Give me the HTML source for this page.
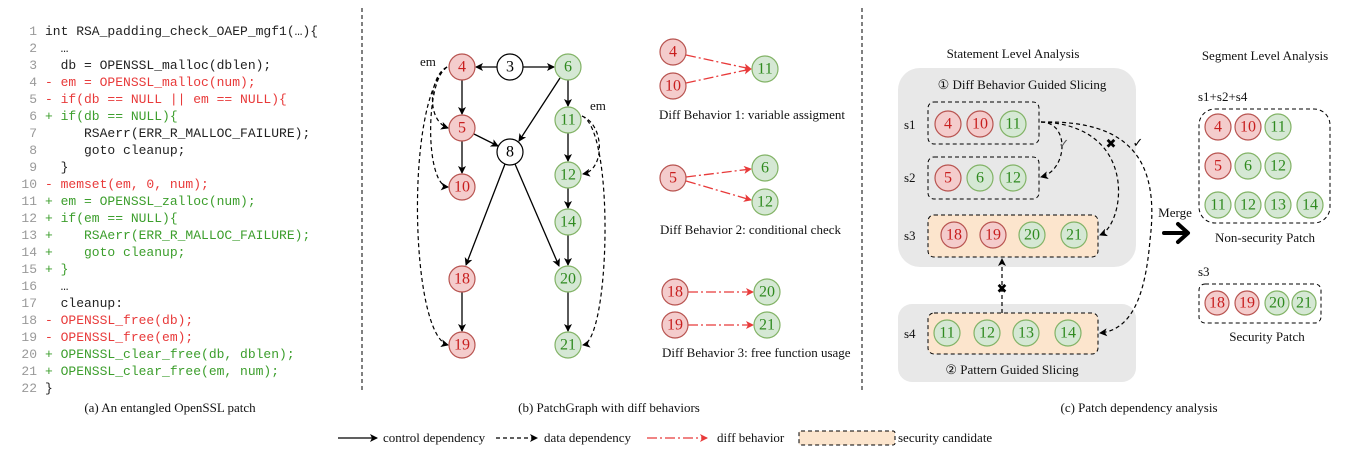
<!DOCTYPE html>
<html><head><meta charset="utf-8"><style>
html,body{margin:0;padding:0;background:#fff;}
svg{display:block;}
.code{font-family:"Liberation Mono",monospace;font-size:13px;white-space:pre;}
.code text{white-space:pre;}
.ln{fill:#999;text-anchor:end;}
.r{fill:#e83a3a;} .g{fill:#3c9e2c;} .k{fill:#222;}
.s{font-family:"Liberation Serif",serif;font-size:13px;fill:#111;}
.n{font-family:"Liberation Serif",serif;font-size:16px;text-anchor:middle;dominant-baseline:central;}
.rc{fill:#f4cccc;stroke:#b85450;stroke-width:1.2;}
.gc{fill:#d5e8d4;stroke:#82b366;stroke-width:1.2;}
.wc{fill:#fff;stroke:#000;stroke-width:1.2;}
.rt{fill:#c81e1e;} .gt{fill:#2f8a1f;}
.ctl{stroke:#000;stroke-width:1.3;fill:none;marker-end:url(#ab);}
.dat{stroke:#000;stroke-width:1.2;fill:none;stroke-dasharray:4,3;marker-end:url(#ab);}
.dif{stroke:#e83a3a;stroke-width:1.3;fill:none;stroke-dasharray:10,3,2,3;marker-end:url(#ar);}
</style></head><body>
<svg width="1348" height="458" viewBox="0 0 1348 458" xmlns="http://www.w3.org/2000/svg" xml:space="preserve">
<defs>
<marker id="ab" markerWidth="8" markerHeight="8" refX="7" refY="4" orient="auto" markerUnits="userSpaceOnUse"><path d="M0,0 L8,4 L0,8 L2,4 Z" fill="#000"/></marker>
<marker id="ar" markerWidth="8" markerHeight="8" refX="7" refY="4" orient="auto" markerUnits="userSpaceOnUse"><path d="M0,0 L8,4 L0,8 L2,4 Z" fill="#e83a3a"/></marker>
</defs>
<line x1="362" y1="8" x2="362" y2="392" stroke="#000" stroke-dasharray="4,3"/>
<line x1="862" y1="8" x2="862" y2="392" stroke="#000" stroke-dasharray="4,3"/>
<g class="code">
<text class="ln" x="37" y="35">1</text><text class="k" x="45" y="35">int RSA_padding_check_OAEP_mgf1(…){</text>
<text class="ln" x="37" y="52">2</text><text class="k" x="45" y="52">  …</text>
<text class="ln" x="37" y="69">3</text><text class="k" x="45" y="69">  db = OPENSSL_malloc(dblen);</text>
<text class="ln" x="37" y="86">4</text><text class="r" x="45" y="86">- em = OPENSSL_malloc(num);</text>
<text class="ln" x="37" y="103">5</text><text class="r" x="45" y="103">- if(db == NULL || em == NULL){</text>
<text class="ln" x="37" y="120">6</text><text class="g" x="45" y="120">+ if(db == NULL){</text>
<text class="ln" x="37" y="137">7</text><text class="k" x="45" y="137">     RSAerr(ERR_R_MALLOC_FAILURE);</text>
<text class="ln" x="37" y="154">8</text><text class="k" x="45" y="154">     goto cleanup;</text>
<text class="ln" x="37" y="171">9</text><text class="k" x="45" y="171">  }</text>
<text class="ln" x="37" y="188">10</text><text class="r" x="45" y="188">- memset(em, 0, num);</text>
<text class="ln" x="37" y="205">11</text><text class="g" x="45" y="205">+ em = OPENSSL_zalloc(num);</text>
<text class="ln" x="37" y="222">12</text><text class="g" x="45" y="222">+ if(em == NULL){</text>
<text class="ln" x="37" y="239">13</text><text class="g" x="45" y="239">+    RSAerr(ERR_R_MALLOC_FAILURE);</text>
<text class="ln" x="37" y="256">14</text><text class="g" x="45" y="256">+    goto cleanup;</text>
<text class="ln" x="37" y="273">15</text><text class="g" x="45" y="273">+ }</text>
<text class="ln" x="37" y="290">16</text><text class="k" x="45" y="290">  …</text>
<text class="ln" x="37" y="307">17</text><text class="k" x="45" y="307">  cleanup:</text>
<text class="ln" x="37" y="324">18</text><text class="r" x="45" y="324">- OPENSSL_free(db);</text>
<text class="ln" x="37" y="341">19</text><text class="r" x="45" y="341">- OPENSSL_free(em);</text>
<text class="ln" x="37" y="358">20</text><text class="g" x="45" y="358">+ OPENSSL_clear_free(db, dblen);</text>
<text class="ln" x="37" y="375">21</text><text class="g" x="45" y="375">+ OPENSSL_clear_free(em, num);</text>
<text class="ln" x="37" y="392">22</text><text class="k" x="45" y="392">}</text>
</g>
<text class="s" x="170" y="412" text-anchor="middle">(a) An entangled OpenSSL patch</text>
<text class="s" x="609" y="412" text-anchor="middle">(b) PatchGraph with diff behaviors</text>
<text class="s" x="1139" y="412" text-anchor="middle">(c) Patch dependency analysis</text>
<line class="ctl" x1="497" y1="67" x2="476" y2="67"/>
<line class="ctl" x1="523" y1="67" x2="554" y2="67"/>
<line class="ctl" x1="462" y1="80" x2="462" y2="114"/>
<line class="ctl" x1="462" y1="141" x2="462" y2="173"/>
<line class="ctl" x1="474" y1="134" x2="498" y2="146"/>
<line class="ctl" x1="560" y1="78" x2="519" y2="141"/>
<line class="ctl" x1="568" y1="80" x2="568" y2="106"/>
<line class="ctl" x1="568" y1="133" x2="568" y2="161"/>
<line class="ctl" x1="568" y1="188" x2="568" y2="208"/>
<line class="ctl" x1="568" y1="235" x2="568" y2="265"/>
<line class="ctl" x1="568" y1="292" x2="568" y2="331"/>
<line class="ctl" x1="505" y1="164" x2="466" y2="265"/>
<line class="ctl" x1="515" y1="164" x2="559" y2="266"/>
<line class="ctl" x1="462" y1="292" x2="462" y2="331"/>
<path class="dat" d="M447,67 C430,75 425,120 448,128"/>
<path class="dat" d="M447,67 C425,80 425,185 448,187"/>
<path class="dat" d="M447,67 C405,100 410,335 448,345"/>
<path class="dat" d="M582,116 C605,125 605,170 583,174"/>
<path class="dat" d="M582,116 C615,130 610,340 583,345"/>
<text class="s" x="420" y="66">em</text>
<text class="s" x="590" y="110">em</text>
<g>
<circle class="wc" cx="510" cy="67" r="13"/><text class="n" x="510" y="67">3</text>
<circle class="wc" cx="510" cy="152" r="13"/><text class="n" x="510" y="152">8</text>
<circle class="rc" cx="462" cy="67" r="13"/><text class="n rt" x="462" y="67">4</text>
<circle class="rc" cx="462" cy="128" r="13"/><text class="n rt" x="462" y="128">5</text>
<circle class="rc" cx="462" cy="187" r="13"/><text class="n rt" x="462" y="187">10</text>
<circle class="rc" cx="462" cy="279" r="13"/><text class="n rt" x="462" y="279">18</text>
<circle class="rc" cx="462" cy="345" r="13"/><text class="n rt" x="462" y="345">19</text>
<circle class="gc" cx="568" cy="67" r="13"/><text class="n gt" x="568" y="67">6</text>
<circle class="gc" cx="568" cy="120" r="13"/><text class="n gt" x="568" y="120">11</text>
<circle class="gc" cx="568" cy="175" r="13"/><text class="n gt" x="568" y="175">12</text>
<circle class="gc" cx="568" cy="222" r="13"/><text class="n gt" x="568" y="222">14</text>
<circle class="gc" cx="568" cy="279" r="13"/><text class="n gt" x="568" y="279">20</text>
<circle class="gc" cx="568" cy="345" r="13"/><text class="n gt" x="568" y="345">21</text>
</g>
<line class="dif" x1="686" y1="55" x2="751" y2="69"/>
<line class="dif" x1="686" y1="83" x2="751" y2="69"/>
<line class="dif" x1="686" y1="177" x2="751" y2="169"/>
<line class="dif" x1="686" y1="181" x2="751" y2="200"/>
<line class="dif" x1="688" y1="292" x2="753" y2="292"/>
<line class="dif" x1="688" y1="325" x2="753" y2="325"/>
<circle class="rc" cx="673" cy="52" r="13"/><text class="n rt" x="673" y="52">4</text>
<circle class="rc" cx="673" cy="86" r="13"/><text class="n rt" x="673" y="86">10</text>
<circle class="gc" cx="765" cy="69" r="13"/><text class="n gt" x="765" y="69">11</text>
<circle class="rc" cx="673" cy="178" r="13"/><text class="n rt" x="673" y="178">5</text>
<circle class="gc" cx="765" cy="168" r="13"/><text class="n gt" x="765" y="168">6</text>
<circle class="gc" cx="765" cy="202" r="13"/><text class="n gt" x="765" y="202">12</text>
<circle class="rc" cx="675" cy="292" r="13"/><text class="n rt" x="675" y="292">18</text>
<circle class="gc" cx="767" cy="292" r="13"/><text class="n gt" x="767" y="292">20</text>
<circle class="rc" cx="675" cy="325" r="13"/><text class="n rt" x="675" y="325">19</text>
<circle class="gc" cx="767" cy="325" r="13"/><text class="n gt" x="767" y="325">21</text>
<text class="s" x="659" y="119">Diff Behavior 1: variable assigment</text>
<text class="s" x="660" y="234">Diff Behavior 2: conditional check</text>
<text class="s" x="662" y="357">Diff Behavior 3: free function usage</text>
<text class="s" x="1013" y="58" text-anchor="middle">Statement Level Analysis</text>
<text class="s" x="1265" y="60" text-anchor="middle">Segment Level Analysis</text>
<rect x="898" y="68" width="238" height="199" rx="22" fill="#e8e8e8"/>
<rect x="898" y="304" width="238" height="78" rx="14" fill="#e8e8e8"/>
<text class="s" x="1022" y="89" text-anchor="middle">① Diff Behavior Guided Slicing</text>
<text class="s" x="1012" y="374" text-anchor="middle">② Pattern Guided Slicing</text>
<rect x="928" y="102" width="111" height="42" rx="6" fill="none" stroke="#000" stroke-dasharray="4,3"/>
<rect x="928" y="157" width="111" height="42" rx="6" fill="none" stroke="#000" stroke-dasharray="4,3"/>
<rect x="928" y="215" width="170" height="42" rx="6" fill="#fce5cd" stroke="#000" stroke-dasharray="4,3"/>
<rect x="928" y="313" width="170" height="41" rx="6" fill="#fce5cd" stroke="#000" stroke-dasharray="4,3"/>
<text class="s" x="904" y="129">s1</text>
<text class="s" x="904" y="182">s2</text>
<text class="s" x="904" y="240">s3</text>
<text class="s" x="904" y="338">s4</text>
<circle class="rc" cx="948" cy="124" r="13"/><text class="n rt" x="948" y="124">4</text>
<circle class="rc" cx="980" cy="124" r="13"/><text class="n rt" x="980" y="124">10</text>
<circle class="gc" cx="1013" cy="124" r="13"/><text class="n gt" x="1013" y="124">11</text>
<circle class="rc" cx="948" cy="178" r="13"/><text class="n rt" x="948" y="178">5</text>
<circle class="gc" cx="980" cy="178" r="13"/><text class="n gt" x="980" y="178">6</text>
<circle class="gc" cx="1013" cy="178" r="13"/><text class="n gt" x="1013" y="178">12</text>
<circle class="rc" cx="954" cy="235" r="13"/><text class="n rt" x="954" y="235">18</text>
<circle class="rc" cx="993" cy="235" r="13"/><text class="n rt" x="993" y="235">19</text>
<circle class="gc" cx="1032" cy="235" r="13"/><text class="n gt" x="1032" y="235">20</text>
<circle class="gc" cx="1074" cy="235" r="13"/><text class="n gt" x="1074" y="235">21</text>
<circle class="gc" cx="947" cy="333" r="13"/><text class="n gt" x="947" y="333">11</text>
<circle class="gc" cx="987" cy="333" r="13"/><text class="n gt" x="987" y="333">12</text>
<circle class="gc" cx="1026" cy="333" r="13"/><text class="n gt" x="1026" y="333">13</text>
<circle class="gc" cx="1068" cy="333" r="13"/><text class="n gt" x="1068" y="333">14</text>
<path class="dat" d="M1041,122 C1070,122 1068,170 1041,177"/>
<path class="dat" d="M1041,122 C1140,125 1125,225 1100,235"/>
<path class="dat" d="M1041,122 C1130,120 1160,160 1150,240 C1145,300 1130,330 1100,333"/>
<path class="dat" d="M1002,313 L1002,259"/>
<text x="1064" y="148" font-family="DejaVu Sans" font-size="13" font-weight="bold" fill="#555" text-anchor="middle">✓</text>
<text x="1111" y="148" font-family="DejaVu Sans" font-size="13" font-weight="bold" text-anchor="middle">✖</text>
<text x="1138" y="147" font-family="DejaVu Sans" font-size="13" font-weight="bold" text-anchor="middle">✓</text>
<text x="1002" y="293" font-family="DejaVu Sans" font-size="13" font-weight="bold" text-anchor="middle">✖</text>
<text class="s" x="1175" y="217" text-anchor="middle">Merge</text>
<path d="M1164,233 L1186,233 M1178,224 L1188,233 L1178,242" stroke="#000" stroke-width="4" fill="none" stroke-linecap="round" stroke-linejoin="round"/>
<text class="s" x="1198" y="101">s1+s2+s4</text>
<rect x="1199" y="109" width="131" height="114" rx="16" fill="none" stroke="#000" stroke-dasharray="4,3"/>
<circle class="rc" cx="1218" cy="127" r="13"/><text class="n rt" x="1218" y="127">4</text>
<circle class="rc" cx="1248" cy="127" r="13"/><text class="n rt" x="1248" y="127">10</text>
<circle class="gc" cx="1278" cy="127" r="13"/><text class="n gt" x="1278" y="127">11</text>
<circle class="rc" cx="1218" cy="166" r="13"/><text class="n rt" x="1218" y="166">5</text>
<circle class="gc" cx="1248" cy="166" r="13"/><text class="n gt" x="1248" y="166">6</text>
<circle class="gc" cx="1278" cy="166" r="13"/><text class="n gt" x="1278" y="166">12</text>
<circle class="gc" cx="1218" cy="205" r="13"/><text class="n gt" x="1218" y="205">11</text>
<circle class="gc" cx="1248" cy="205" r="13"/><text class="n gt" x="1248" y="205">12</text>
<circle class="gc" cx="1278" cy="205" r="13"/><text class="n gt" x="1278" y="205">13</text>
<circle class="gc" cx="1310" cy="205" r="13"/><text class="n gt" x="1310" y="205">14</text>
<text class="s" x="1265" y="242" text-anchor="middle">Non-security Patch</text>
<text class="s" x="1198" y="276">s3</text>
<rect x="1199" y="284" width="122" height="39" rx="6" fill="none" stroke="#000" stroke-dasharray="4,3"/>
<circle class="rc" cx="1217" cy="303" r="12"/><text class="n rt" x="1217" y="303">18</text>
<circle class="rc" cx="1247" cy="303" r="12"/><text class="n rt" x="1247" y="303">19</text>
<circle class="gc" cx="1277" cy="303" r="12"/><text class="n gt" x="1277" y="303">20</text>
<circle class="gc" cx="1304" cy="303" r="12"/><text class="n gt" x="1304" y="303">21</text>
<text class="s" x="1267" y="341" text-anchor="middle">Security Patch</text>
<line class="ctl" x1="338" y1="438" x2="377" y2="438"/>
<text class="s" x="383" y="442">control dependency</text>
<line class="dat" x1="496" y1="438" x2="537" y2="438"/>
<text class="s" x="544" y="442">data dependency</text>
<line class="dif" x1="647" y1="438" x2="707" y2="438"/>
<text class="s" x="717" y="442">diff behavior</text>
<rect x="799" y="431" width="96" height="14" rx="2" fill="#fce5cd" stroke="#000" stroke-dasharray="4,3"/>
<text class="s" x="898" y="442">security candidate</text>
</svg>
</body></html>
